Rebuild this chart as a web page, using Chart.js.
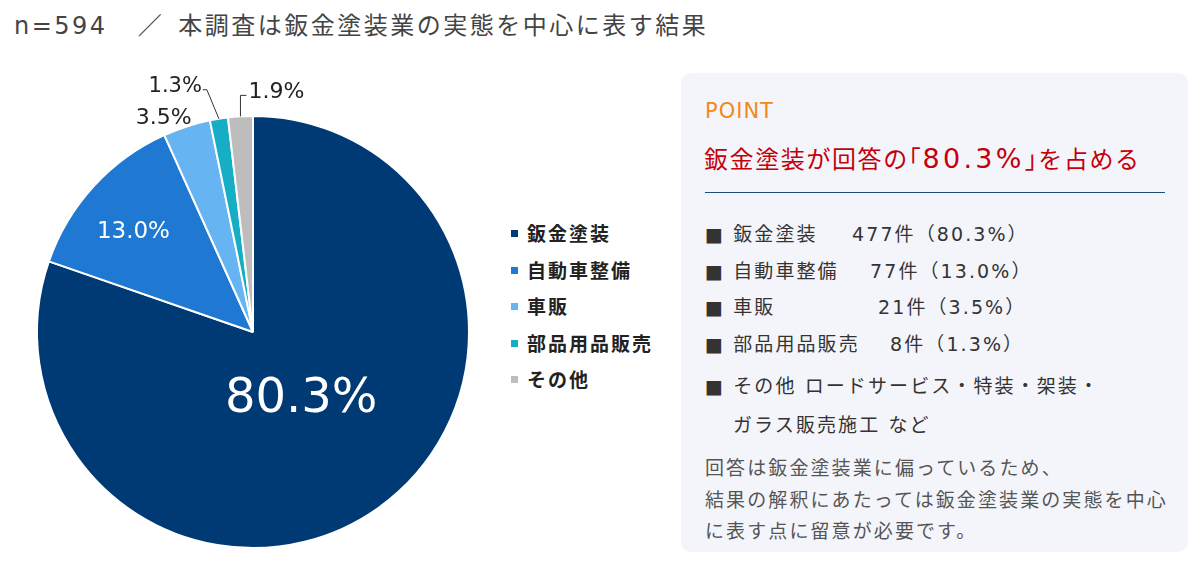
<!DOCTYPE html>
<html lang="ja">
<head>
<meta charset="utf-8">
<script src="https://cdn.jsdelivr.net/npm/chart.js@4.4.1/dist/chart.umd.min.js"></script>
<style>
  body { margin: 0; width: 1200px; height: 563px; background: #fff; position: relative; overflow: hidden;
         font-family: "DejaVu Sans", "Noto Sans CJK JP", sans-serif; color: #333; }
  #title { position: absolute; left: 14px; top: 6px; font-size: 24px; letter-spacing: 2.5px; color: #444; white-space: nowrap; }
  #title .sl { display: inline-block; margin: 0 14px 0 30px; }
  #chartWrap { position: absolute; left: 0; top: 60px; width: 510px; height: 503px; }
  #legend { position: absolute; left: 511px; top: 222px; }
  #legend div { height: 36.5px; line-height: 24px; font-size: 19px; font-weight: bold; letter-spacing: 2px; color: #222; white-space: nowrap; }
  #legend span { display: inline-block; width: 7px; height: 7px; margin-right: 9px; vertical-align: 4px; }
  #panel { position: absolute; left: 681px; top: 73px; width: 507px; height: 479px; background: #f4f5fa; border-radius: 10px; }
  #panel .abs { position: absolute; white-space: nowrap; }
  .point { left: 24px; top: 26px; font-size: 21px; color: #f0891a; letter-spacing: 1px; }
  .head { left: 23px; top: 67px; font-size: 24px; color: #c4000b; letter-spacing: 1.6px; }
  .head .br { font-feature-settings: "halt"; }
  .head .num { font-size: 27px; letter-spacing: 3.3px; }
  .rule { left: 24px; top: 119px; width: 460px; height: 1px; background: #1d4f7a; }
  .item { font-size: 19px; letter-spacing: 2.1px; color: #333; }
  .note { left: 24px; top: 380px; font-size: 19px; letter-spacing: 2.1px; line-height: 31.5px; color: #555; }
</style>
</head>
<body>
<div id="title">n=594<span class="sl">／</span>本調査は鈑金塗装業の実態を中心に表す結果</div>
<div id="chartWrap"><canvas id="pie" width="510" height="503"></canvas></div>
<div id="legend"></div>
<div id="panel">
  <div class="abs point">POINT</div>
  <div class="abs head">鈑金塗装が回答の<span class="br">「</span><span class="num">80.3%</span><span class="br">」</span>を占める</div>
  <div class="abs rule"></div>
  <div id="items"></div>
  <div class="abs note">回答は鈑金塗装業に偏っているため、<br>結果の解釈にあたっては鈑金塗装業の実態を中心<br>に表す点に留意が必要です。</div>
</div>
<script>
const labels = ['鈑金塗装', '自動車整備', '車販', '部品用品販売', 'その他'];
const counts = [477, 77, 21, 8, 11];
const shares = ['80.3%', '13.0%', '3.5%', '1.3%', '1.9%'];
const colors = ['#003a75', '#1f78d1', '#66b5f2', '#16aec4', '#bdbdbd'];
const otherNote = ['その他 ロードサービス・特装・架装・', 'ガラス販売施工 など'];

// legend
const legend = document.getElementById('legend');
labels.forEach((l, i) => {
  const d = document.createElement('div');
  d.innerHTML = `<span style="background:${colors[i]}"></span>${l}`;
  legend.appendChild(d);
});

// panel list
const items = document.getElementById('items');
const rowTop = [146, 183, 219, 256];
const countLeft = [171, 189, 197, 209];
for (let i = 0; i < 4; i++) {
  items.innerHTML += `<div class="abs item" style="left:24px;top:${rowTop[i]}px">■ ${labels[i]}</div>` +
    `<div class="abs item" style="left:${countLeft[i]}px;top:${rowTop[i]}px">${counts[i]}件（${shares[i]}）</div>`;
}
items.innerHTML += `<div class="abs item" style="left:24px;top:298px">■ ${otherNote[0]}</div>` +
  `<div class="abs item" style="left:52px;top:337px">${otherNote[1]}</div>`;

// per-slice label placement
const labelStyle = [
  { type: 'in', r: 0.385, size: 48 },
  { type: 'in', r: 0.75, size: 23, dy: 9 },
  { type: 'out', dx: -23, dy: -8, size: 22 },
  { type: 'lead', dx: -12, dy: -29, tail: -4, size: 21 },
  { type: 'lead', dx: 0, dy: -21, tail: 6, size: 22 }
];

const sliceLabels = {
  id: 'sliceLabels',
  afterDatasetsDraw(chart) {
    const ctx = chart.ctx;
    const arcs = chart.getDatasetMeta(0).data;
    ctx.save();
    arcs.forEach((arc, i) => {
      const p = arc.getProps(['x', 'y', 'startAngle', 'endAngle', 'outerRadius'], true);
      const mid = (p.startAngle + p.endAngle) / 2;
      const s = labelStyle[i];
      ctx.font = `${s.size}px "DejaVu Sans", sans-serif`;
      ctx.textBaseline = 'middle';
      ctx.textAlign = 'center';
      const ax = p.x + Math.cos(mid) * p.outerRadius;
      const ay = p.y + Math.sin(mid) * p.outerRadius;
      if (s.type === 'in') {
        ctx.fillStyle = '#fff';
        ctx.fillText(shares[i], p.x + Math.cos(mid) * p.outerRadius * s.r, p.y + Math.sin(mid) * p.outerRadius * s.r + (s.dy || 0));
      } else if (s.type === 'out') {
        ctx.fillStyle = '#222';
        ctx.fillText(shares[i], ax + s.dx, ay + s.dy);
      } else {
        const ex = ax + s.dx, ey = ay + s.dy;
        ctx.strokeStyle = '#333';
        ctx.lineWidth = 1;
        ctx.beginPath();
        ctx.moveTo(ax, ay);
        ctx.lineTo(ex, ey);
        ctx.lineTo(ex + s.tail, ey);
        ctx.stroke();
        ctx.fillStyle = '#222';
        ctx.textAlign = s.tail < 0 ? 'right' : 'left';
        ctx.fillText(shares[i], ex + s.tail + (s.tail < 0 ? -1 : 2), ey - 3);
      }
    });
    ctx.restore();
  }
};

new Chart(document.getElementById('pie'), {
  type: 'pie',
  data: {
    labels: labels,
    datasets: [{
      data: counts,
      backgroundColor: colors,
      borderColor: '#fff',
      borderWidth: 2
    }]
  },
  options: {
    responsive: false,
    animation: false,
    layout: { padding: { left: 36, right: 40, top: 54, bottom: 13 } },
    plugins: { legend: { display: false }, tooltip: { enabled: false } }
  },
  plugins: [sliceLabels]
});
</script>
</body>
</html>
